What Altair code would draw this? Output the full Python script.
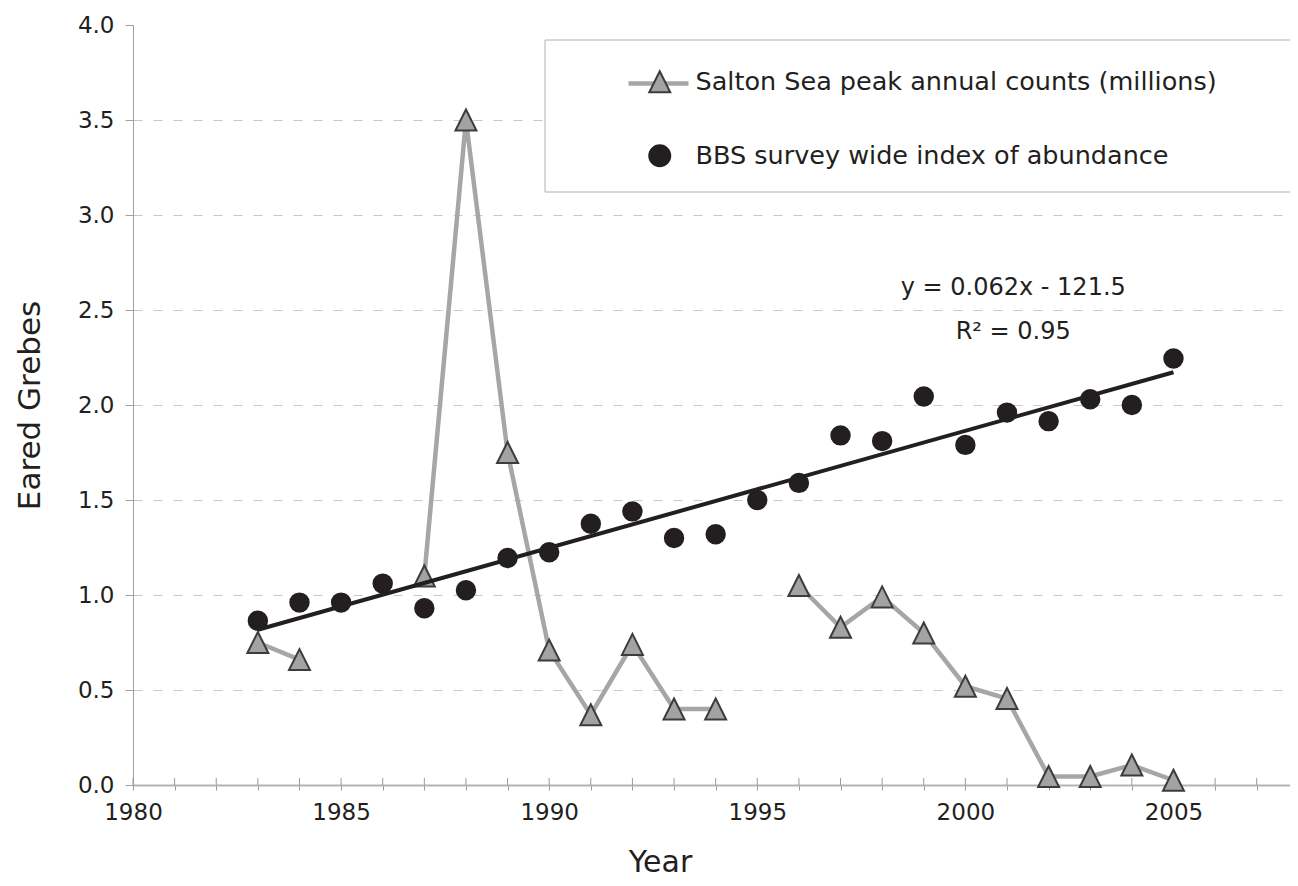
import altair as alt
import pandas as pd

# ---- data ----
salton_years = [1983, 1984, 1987, 1988, 1989, 1990, 1991, 1992, 1993, 1994,
                1996, 1997, 1998, 1999, 2000, 2001, 2002, 2003, 2004, 2005]
salton_values = [0.75, 0.66, 1.10, 3.50, 1.75, 0.71, 0.37, 0.74, 0.40, 0.40,
                 1.05, 0.83, 0.99, 0.80, 0.52, 0.455, 0.045, 0.045, 0.105, 0.025]

bbs_years = list(range(1983, 2006))
bbs_values = [0.865, 0.96, 0.96, 1.06, 0.93, 1.025, 1.195, 1.225, 1.375, 1.44,
              1.30, 1.32, 1.50, 1.59, 1.84, 1.81, 2.045, 1.79, 1.96, 1.915,
              2.03, 2.00, 2.245]

series_names = ["Salton Sea peak annual counts (millions)",
                "BBS survey wide index of abundance"]
line_keys = ["salton_line"]

x_tick_years = list(range(1980, 2008))
y_tick_values = [0, 0.5, 1.0, 1.5, 2.0, 2.5, 3.0, 3.5, 4.0]

eq_years = [2001.15, 2001.15]
eq_values = [2.615, 2.385]
eq_texts = ["y = 0.062x - 121.5", "R\u00b2 = 0.95"]

# ---- tables ----
segs = []
seg = 0
for i, yr in enumerate(salton_years):
    if i > 0 and yr - salton_years[i - 1] > 1:
        seg += 1
    segs.append(seg)

df_salton = pd.DataFrame({"year": salton_years, "value": salton_values,
                          "seg": segs, "series": series_names[0],
                          "key": line_keys[0]})
df_bbs = pd.DataFrame({"year": bbs_years, "value": bbs_values,
                       "series": series_names[1]})
df_points = pd.concat([df_salton[["year", "value", "series"]], df_bbs],
                      ignore_index=True)
df_ticks = pd.DataFrame({"year": x_tick_years})
df_eq = pd.DataFrame({"year": eq_years, "value": eq_values, "text": eq_texts})
df_frame = pd.DataFrame({"frame": [0]})

FONT = "DejaVu Sans"
INK = "#231f20"
LINE_GREY = "#a6a6a6"
TRI = "M0,-1L1,1L-1,1Z"

x_scale = alt.Scale(domain=[1980, 2007.8], nice=False, zero=False)
y_scale = alt.Scale(domain=[0, 4], nice=False, zero=True)

x_axis = alt.Axis(
    values=x_tick_years, format="d",
    labelExpr="datum.value % 5 == 0 ? datum.label : ''",
    labelFont=FONT, labelFontSize=23, labelColor=INK, labelPadding=11,
    labelOverlap=False, labelFlush=False,
    domainColor="#b4b4b4", domainWidth=2,
    tickColor="#9a9a9a", tickSize=5, tickWidth=1,
    grid=False,
    title="Year", titleFont=FONT, titleFontSize=30, titleFontWeight="normal",
    titleColor=INK, titlePadding=23, titleX=527,
)
y_axis = alt.Axis(
    values=y_tick_values, format=".1f",
    labelFont=FONT, labelFontSize=23, labelColor=INK, labelPadding=11,
    domainColor="#a0a0a0", domainWidth=1,
    tickColor="#a0a0a0", tickSize=8, tickWidth=1,
    grid=True, gridColor="#c8c8c8", gridDash=[9, 11], gridWidth=1,
    gridOpacity={"condition": {"test": "datum.value <= 0 || datum.value >= 4",
                               "value": 0}, "value": 1},
    title="Eared Grebes", titleFont=FONT, titleFontSize=31,
    titleFontWeight="normal", titleColor=INK, titlePadding=31,
)

# legend that only contributes the grey line behind the Salton marker
line_legend = alt.Legend(
    title=None, orient="none", legendX=412, legendY=26,
    padding=0, symbolType="stroke", symbolSize=3600, symbolStrokeWidth=4.5,
    symbolOffset=81, labelExpr="''", labelFontSize=1,
)

# legend with the markers and the labels
point_legend = alt.Legend(
    title=None, orient="none", legendX=412, legendY=15,
    padding=29, symbolOffset=73, labelOffset=23, rowPadding=44,
    labelFont=FONT, labelFontSize=25.5, labelColor=INK, labelLimit=2000,
    symbolSize=440, symbolStrokeWidth=2,
)

# white frame of the legend (drawn over the grid)
legend_frame = alt.Chart(df_frame).mark_rect(
    fill="white", stroke="#b0b0b0", strokeWidth=1
).encode(
    x=alt.value(412), x2=alt.value(1200),
    y=alt.value(15), y2=alt.value(167),
)

salton_line = alt.Chart(df_salton).mark_line(strokeWidth=4.5).encode(
    x=alt.X("year:Q", scale=x_scale, axis=x_axis),
    y=alt.Y("value:Q", scale=y_scale, axis=y_axis),
    detail="seg:N",
    color=alt.Color("key:N", scale=alt.Scale(domain=line_keys,
                                              range=[LINE_GREY]),
                    legend=line_legend),
)

inner_ticks = alt.Chart(df_ticks).mark_rule(color="#9a9a9a", strokeWidth=1).encode(
    x=alt.X("year:Q", scale=x_scale),
    y=alt.datum(0),
    y2=alt.datum(0.037),
)

points = alt.Chart(df_points).mark_point(filled=True, opacity=1, strokeWidth=2).encode(
    x=alt.X("year:Q", scale=x_scale),
    y=alt.Y("value:Q", scale=y_scale),
    shape=alt.Shape("series:N", scale=alt.Scale(domain=series_names,
                                                 range=[TRI, "circle"]),
                    legend=point_legend),
    fill=alt.Fill("series:N", scale=alt.Scale(domain=series_names,
                                               range=["#a3a3a3", INK]),
                  legend=point_legend),
    stroke=alt.Stroke("series:N", scale=alt.Scale(domain=series_names,
                                                   range=["#3c3c3c", INK]),
                      legend=point_legend),
    size=alt.condition(alt.datum.series == series_names[1],
                       alt.value(340), alt.value(440)),
)

trend = alt.Chart(df_bbs).transform_regression(
    "year", "value"
).mark_line(color=INK, strokeWidth=4).encode(
    x=alt.X("year:Q", scale=x_scale),
    y=alt.Y("value:Q", scale=y_scale),
)

eq_text = alt.Chart(df_eq).mark_text(
    font=FONT, fontSize=24, color=INK, align="center", baseline="middle"
).encode(
    x=alt.X("year:Q", scale=x_scale),
    y=alt.Y("value:Q", scale=y_scale),
    text="text:N",
)

chart = alt.layer(salton_line, legend_frame, inner_ticks, points, trend, eq_text).properties(
    width=1157, height=760,
    padding={"left": 125, "top": 17, "right": 0, "bottom": 93},
    autosize="none",
    background="white",
).configure_view(strokeWidth=0)

chart.save("out.html", embed_options={"renderer": "svg", "actions": False})
